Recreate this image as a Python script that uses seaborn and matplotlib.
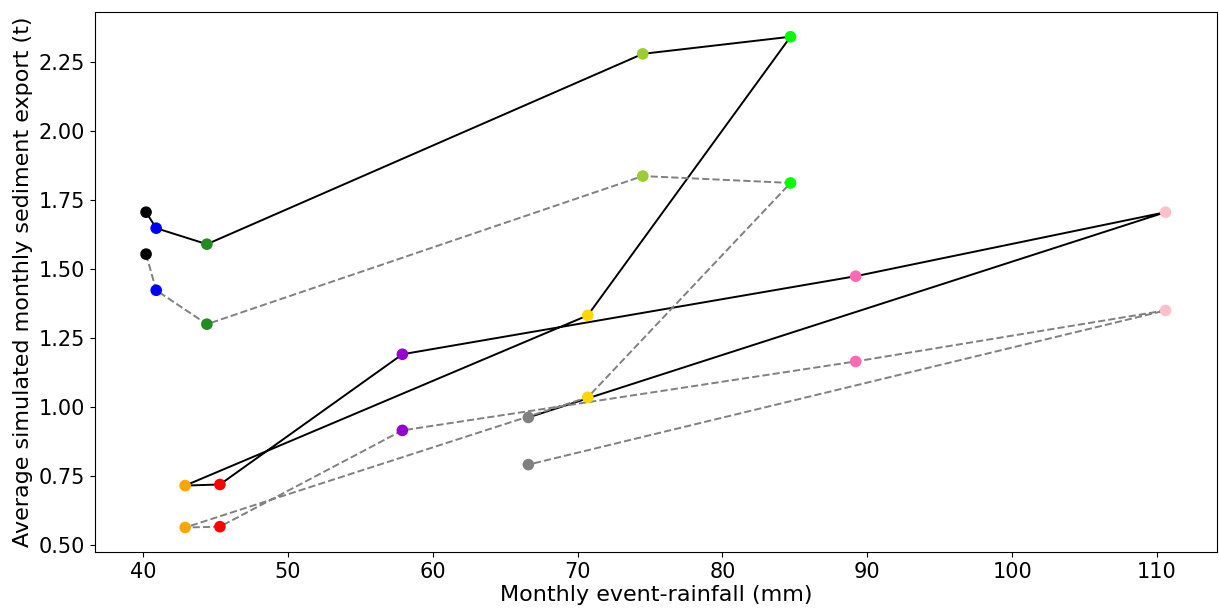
import matplotlib
matplotlib.use("Agg")
import matplotlib.pyplot as plt
import seaborn as sns
import pandas as pd

# monthly values, Jan..Dec
months = ["Jan", "Feb", "Mar", "Apr", "May", "Jun",
          "Jul", "Aug", "Sep", "Oct", "Nov", "Dec"]
rainfall = [40.2, 40.9, 44.4, 74.5, 84.7, 70.7,
            42.9, 45.3, 57.9, 89.2, 110.6, 66.6]
sediment_a = [1.705, 1.647, 1.589, 2.279, 2.341, 1.331,
              0.714, 0.718, 1.190, 1.473, 1.705, 0.961]
sediment_b = [1.553, 1.422, 1.299, 1.836, 1.811, 1.034,
              0.562, 0.565, 0.914, 1.164, 1.349, 0.790]
month_colors = ["black", "blue", "forestgreen", "yellowgreen", "lime", "gold",
                "orange", "red", "darkviolet", "hotpink", "pink", "gray"]

df = pd.DataFrame({"month": months, "rain": rainfall,
                   "sed_a": sediment_a, "sed_b": sediment_b})
palette = dict(zip(months, month_colors))

sns.set_style("ticks")
plt.rcParams["font.family"] = ["DejaVu Sans"]
plt.rcParams.update({"text.color": "black", "axes.labelcolor": "black",
                     "xtick.color": "black", "ytick.color": "black",
                     "axes.edgecolor": "black"})

fig = plt.figure(figsize=(12.19, 6.10), dpi=100)
ax = fig.add_axes([0.078, 0.095, 0.920, 0.885])

# connecting lines in month order
sns.lineplot(data=df, x="rain", y="sed_a", sort=False, color="black",
             linewidth=1.4, ax=ax, zorder=1)
sns.lineplot(data=df, x="rain", y="sed_b", sort=False, color="gray",
             linewidth=1.4, linestyle="--", ax=ax, zorder=1)

# month points
for col in ["sed_a", "sed_b"]:
    sns.scatterplot(data=df, x="rain", y=col, hue="month", palette=palette,
                    s=70, edgecolor="none", legend=False, ax=ax, zorder=2)

ax.set_xlabel("Monthly event-rainfall (mm)", fontsize=16, labelpad=2)
ax.set_ylabel("Average simulated monthly sediment export (t)", fontsize=16, labelpad=4)
ax.tick_params(labelsize=15)
ax.set_xticks([40, 50, 60, 70, 80, 90, 100, 110])
ax.set_yticks([0.5, 0.75, 1.0, 1.25, 1.5, 1.75, 2.0, 2.25])
for s in ax.spines.values():
    s.set_visible(True)
    s.set_linewidth(0.8)

fig.savefig("out.png", dpi=100)
